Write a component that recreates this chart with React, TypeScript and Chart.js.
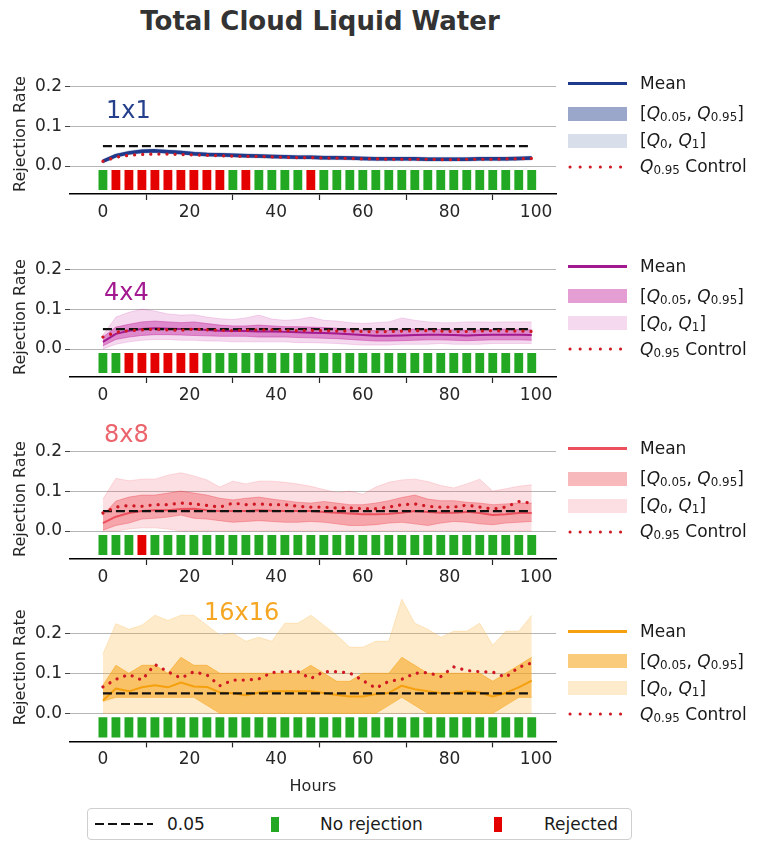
import React, { useEffect, useRef } from "react";
import { Chart, registerables } from "chart.js";

Chart.register(...registerables);

// ---------- data ----------
const HOURS = [0, 3, 6, 9, 12, 15, 18, 21, 24, 27, 30, 33, 36, 39, 42, 45, 48, 51, 54, 57, 60, 63, 66, 69, 72, 75, 78, 81, 84, 87, 90, 93, 96, 99];
const X_TICKS = [0, 20, 40, 60, 80, 100];
const Y_TICKS = [0, 0.1, 0.2];
const THRESHOLD = 0.05;
const BAR_LOW = -0.06;
const BAR_HIGH = -0.01;

// 1x1
const MEAN_1 = [0.012,0.026,0.033,0.037,0.038,0.036,0.034,0.031,0.029,0.028,0.027,0.026,0.025,0.024,0.023,0.022,0.022,0.021,0.021,0.020,0.019,0.018,0.018,0.018,0.018,0.017,0.017,0.017,0.017,0.018,0.018,0.018,0.019,0.020];
const Q95_1 = [0.015,0.029,0.036,0.040,0.041,0.039,0.037,0.034,0.032,0.031,0.030,0.029,0.028,0.027,0.026,0.025,0.025,0.024,0.024,0.023,0.022,0.021,0.021,0.021,0.021,0.020,0.020,0.020,0.020,0.021,0.021,0.021,0.022,0.023];
const Q05_1 = [0.009,0.023,0.030,0.034,0.035,0.033,0.031,0.028,0.026,0.025,0.024,0.023,0.022,0.021,0.020,0.019,0.019,0.018,0.018,0.017,0.016,0.015,0.015,0.015,0.015,0.014,0.014,0.014,0.014,0.015,0.015,0.015,0.016,0.017];
const Q1_1 = [0.017,0.031,0.038,0.042,0.043,0.041,0.039,0.036,0.034,0.033,0.032,0.031,0.030,0.029,0.028,0.027,0.027,0.026,0.026,0.025,0.024,0.023,0.023,0.023,0.023,0.022,0.022,0.022,0.022,0.023,0.023,0.023,0.024,0.025];
const Q0_1 = [0.007,0.021,0.028,0.032,0.033,0.031,0.029,0.026,0.024,0.023,0.022,0.021,0.020,0.019,0.018,0.017,0.017,0.016,0.016,0.015,0.014,0.013,0.013,0.013,0.013,0.012,0.012,0.012,0.012,0.013,0.013,0.013,0.014,0.015];
const CTRL_1 = [0.012,0.022,0.027,0.029,0.030,0.030,0.029,0.028,0.027,0.026,0.025,0.024,0.024,0.023,0.022,0.021,0.021,0.020,0.020,0.019,0.018,0.018,0.017,0.017,0.017,0.017,0.016,0.016,0.017,0.017,0.017,0.018,0.018,0.019];
const REJ_1 = [0,1,1,1,1,1,1,1,1,1,0,1,0,0,0,0,1,0,0,0,0,0,0,0,0,0,0,0,0,0,0,0,0,0];

// 4x4
const MEAN_2 = [0.018,0.038,0.046,0.050,0.052,0.051,0.050,0.050,0.048,0.046,0.045,0.045,0.044,0.044,0.043,0.042,0.041,0.040,0.039,0.037,0.035,0.033,0.033,0.034,0.035,0.036,0.036,0.035,0.034,0.035,0.036,0.036,0.036,0.035];
const Q95_2 = [0.030,0.055,0.062,0.068,0.070,0.068,0.066,0.068,0.064,0.060,0.058,0.058,0.060,0.058,0.056,0.056,0.055,0.054,0.052,0.050,0.048,0.046,0.047,0.048,0.050,0.050,0.049,0.048,0.047,0.048,0.049,0.050,0.049,0.048];
const Q05_2 = [0.008,0.024,0.030,0.034,0.036,0.036,0.035,0.034,0.033,0.032,0.032,0.032,0.030,0.030,0.030,0.029,0.028,0.027,0.026,0.024,0.022,0.020,0.020,0.021,0.022,0.023,0.023,0.022,0.021,0.022,0.023,0.023,0.023,0.022];
const Q1_2 = [0.035,0.080,0.092,0.100,0.095,0.088,0.085,0.086,0.080,0.076,0.074,0.078,0.085,0.075,0.072,0.074,0.080,0.072,0.070,0.066,0.064,0.066,0.068,0.078,0.072,0.068,0.066,0.066,0.068,0.068,0.067,0.068,0.068,0.068];
const Q0_2 = [0.000,0.012,0.018,0.022,0.024,0.024,0.022,0.022,0.020,0.020,0.018,0.018,0.018,0.018,0.018,0.016,0.016,0.015,0.014,0.012,0.010,0.010,0.010,0.012,0.012,0.012,0.014,0.012,0.012,0.012,0.014,0.014,0.014,0.014];
const CTRL_2 = [0.030,0.042,0.046,0.048,0.050,0.048,0.047,0.050,0.048,0.047,0.046,0.047,0.048,0.048,0.046,0.046,0.047,0.046,0.045,0.045,0.044,0.043,0.044,0.045,0.046,0.046,0.045,0.044,0.044,0.045,0.046,0.045,0.045,0.044];
const REJ_2 = [0,0,1,1,1,1,1,1,0,0,0,0,0,0,0,0,0,0,0,0,0,0,0,0,0,0,0,0,0,0,0,0,0,0];

// 8x8
const MEAN_3 = [0.020,0.036,0.045,0.050,0.052,0.052,0.055,0.056,0.052,0.050,0.050,0.050,0.052,0.051,0.050,0.050,0.050,0.048,0.046,0.044,0.042,0.042,0.043,0.046,0.050,0.048,0.046,0.046,0.048,0.045,0.040,0.042,0.045,0.045];
const Q95_3 = [0.040,0.075,0.085,0.090,0.090,0.095,0.100,0.095,0.090,0.082,0.078,0.082,0.085,0.080,0.076,0.072,0.070,0.074,0.070,0.066,0.066,0.070,0.076,0.084,0.090,0.080,0.076,0.076,0.072,0.070,0.066,0.068,0.070,0.070];
const Q05_3 = [0.002,0.014,0.020,0.030,0.032,0.035,0.040,0.032,0.030,0.026,0.022,0.024,0.026,0.024,0.022,0.022,0.024,0.022,0.018,0.014,0.014,0.016,0.020,0.022,0.018,0.014,0.020,0.024,0.022,0.018,0.016,0.020,0.022,0.024];
const Q1_3 = [0.080,0.132,0.126,0.130,0.130,0.140,0.146,0.138,0.128,0.110,0.125,0.118,0.125,0.125,0.122,0.118,0.112,0.104,0.096,0.100,0.092,0.110,0.122,0.128,0.130,0.124,0.114,0.108,0.118,0.130,0.100,0.106,0.112,0.116];
const Q0_3 = [0.000,0.000,0.005,0.008,0.008,0.005,0.000,0.000,0.000,0.000,0.000,0.000,0.000,0.000,0.000,0.000,0.000,0.000,0.000,0.000,0.000,0.000,0.000,0.000,0.000,0.000,0.000,0.000,0.000,0.000,0.000,0.000,0.000,0.000];
const CTRL_3 = [0.045,0.060,0.064,0.062,0.066,0.066,0.070,0.068,0.064,0.060,0.070,0.066,0.068,0.066,0.066,0.062,0.060,0.060,0.058,0.058,0.056,0.056,0.060,0.066,0.068,0.062,0.060,0.060,0.065,0.060,0.055,0.060,0.074,0.070];
const REJ_3 = [0,0,0,1,0,0,0,0,0,0,0,0,0,0,0,0,0,0,0,0,0,0,0,0,0,0,0,0,0,0,0,0,0,0];

// 16x16
const MEAN_4 = [0.032,0.062,0.055,0.065,0.070,0.065,0.077,0.067,0.066,0.052,0.050,0.045,0.052,0.055,0.055,0.055,0.055,0.051,0.046,0.042,0.042,0.048,0.051,0.069,0.060,0.055,0.051,0.051,0.055,0.052,0.042,0.051,0.065,0.082];
const Q95_4 = [0.07,0.12,0.10,0.12,0.12,0.10,0.14,0.12,0.12,0.10,0.10,0.10,0.10,0.10,0.10,0.10,0.12,0.10,0.08,0.08,0.10,0.10,0.10,0.14,0.12,0.10,0.10,0.10,0.10,0.10,0.08,0.10,0.12,0.14];
const Q05_4 = [0.03,0.04,0.04,0.04,0.04,0.04,0.04,0.04,0.02,0.00,0.00,0.00,0.00,0.00,0.00,0.00,0.00,0.00,0.00,0.00,0.00,0.00,0.02,0.04,0.02,0.00,0.00,0.00,0.00,0.00,0.00,0.02,0.04,0.04];
const Q1_4 = [0.148,0.224,0.210,0.220,0.245,0.232,0.245,0.245,0.220,0.195,0.200,0.180,0.190,0.180,0.225,0.225,0.245,0.220,0.195,0.165,0.165,0.180,0.180,0.285,0.225,0.210,0.190,0.205,0.205,0.225,0.170,0.205,0.205,0.245];
const Q0_4 = [0,0,0,0,0,0,0,0,0,0,0,0,0,0,0,0,0,0,0,0,0,0,0,0,0,0,0,0,0,0,0,0,0,0];
const CTRL_4 = [0.066,0.085,0.097,0.083,0.122,0.104,0.088,0.104,0.096,0.069,0.083,0.083,0.086,0.102,0.104,0.104,0.087,0.104,0.104,0.101,0.082,0.063,0.080,0.085,0.100,0.102,0.092,0.116,0.107,0.104,0.103,0.090,0.115,0.126];
const REJ_4 = [0,0,0,0,0,0,0,0,0,0,0,0,0,0,0,0,0,0,0,0,0,0,0,0,0,0,0,0,0,0,0,0,0,0];

// ---------- style ----------
const FONT = "'DejaVu Sans', 'Liberation Sans', sans-serif";
const TEXT = "#262626";
const GREEN = "#22a822";
const RED = "#e50000";
const CTRL_COLOR = "#cf1822";

const PANELS = [
  { name: "1x1", line: "#1f3a8a", q05: "rgba(31,58,138,0.45)", q0: "rgba(31,58,138,0.17)", lw: 3.5, mean: MEAN_1, q95v: Q95_1, q05v: Q05_1, q1v: Q1_1, q0v: Q0_1, ctrl: CTRL_1, rej: REJ_1, ymax: 0.23, labelX: 106, labelY: 109, labelColor: "#243f8c" },
  { name: "4x4", line: "#a3198f", q05: "rgba(196,40,160,0.45)", q0: "rgba(205,70,175,0.2)", lw: 2, mean: MEAN_2, q95v: Q95_2, q05v: Q05_2, q1v: Q1_2, q0v: Q0_2, ctrl: CTRL_2, rej: REJ_2, ymax: 0.23, labelX: 104, labelY: 291, labelColor: "#a3198f" },
  { name: "8x8", line: "#ee4f5c", q05: "rgba(236,70,82,0.38)", q0: "rgba(240,95,108,0.2)", lw: 2, mean: MEAN_3, q95v: Q95_3, q05v: Q05_3, q1v: Q1_3, q0v: Q0_3, ctrl: CTRL_3, rej: REJ_3, ymax: 0.23, labelX: 104, labelY: 433, labelColor: "#ec646c" },
  { name: "16x16", line: "#f5a00f", q05: "rgba(248,165,30,0.58)", q0: "rgba(250,175,50,0.25)", lw: 2, mean: MEAN_4, q95v: Q95_4, q05v: Q05_4, q1v: Q1_4, q0v: Q0_4, ctrl: CTRL_4, rej: REJ_4, ymax: 0.3, labelX: 204, labelY: 611, labelColor: "#f5a623" },
];

// layout
const Y_MIN = -0.07;
const X_MIN = -7.6;
const X_MAX = 104.6;
const PX_PER_UNIT = 410;
const AREA_LEFT = 70;
const AREA_RIGHT = 556;
const CANVAS_W = 570;
const PAD_TOP = 10;

const pts = (arr: number[]) => HOURS.map((h, i) => ({ x: h, y: arr[i] }));

function Panel({ p, idx }: { p: any; idx: number }) {
  const ref = useRef<HTMLCanvasElement>(null);
  const zero = 165.5 + 182.6 * idx;
  const areaTop = zero - p.ymax * PX_PER_UNIT;
  const areaBottom = zero - Y_MIN * PX_PER_UNIT;
  const isLast = idx === 3;
  const xAxisH = isLast ? 787 + 9.6 + 4 - areaBottom : 45;
  const canvasTop = areaTop - PAD_TOP;
  const canvasH = Math.round(PAD_TOP + (areaBottom - areaTop) + xAxisH);

  useEffect(() => {
    const ctx = ref.current!;
    const lineBase = { pointRadius: 0, tension: 0, borderJoinStyle: "round" as const };
    const chart = new Chart(ctx, {
      type: "line",
      data: {
        datasets: [
          { ...lineBase, label: "Q1", data: pts(p.q1v), borderColor: p.q0, backgroundColor: p.q0, borderWidth: 1, fill: "+1", order: 6 },
          { ...lineBase, label: "Q0", data: pts(p.q0v), borderColor: p.q0, borderWidth: 1, fill: false, order: 6 },
          { ...lineBase, label: "Q95", data: pts(p.q95v), borderColor: p.q05, backgroundColor: p.q05, borderWidth: 1, fill: "+1", order: 5 },
          { ...lineBase, label: "Q05", data: pts(p.q05v), borderColor: p.q05, borderWidth: 1, fill: false, order: 5 },
          { ...lineBase, label: "Mean", data: pts(p.mean), borderColor: p.line, borderWidth: p.lw, fill: false, order: 4 },
          { ...lineBase, label: "0.05", data: [{ x: HOURS[0], y: THRESHOLD }, { x: HOURS[HOURS.length - 1], y: THRESHOLD }], borderColor: "#111", borderWidth: 2.2, borderDash: [9, 4], fill: false, order: 3 },
          { ...lineBase, label: "Control", data: pts(p.ctrl), borderColor: CTRL_COLOR, borderWidth: 3.2, borderDash: [0.1, 8], borderCapStyle: "round", fill: false, order: 2 },
          { type: "bar", label: "Test", data: HOURS.map((h) => ({ x: h, y: [BAR_LOW, BAR_HIGH] })) as any, backgroundColor: p.rej.map((r: number) => (r ? RED : GREEN)), barPercentage: 0.68, categoryPercentage: 1, order: 7 } as any,
        ],
      },
      options: {
        responsive: false,
        maintainAspectRatio: false,
        animation: false,
        events: [],
        layout: { padding: { top: PAD_TOP, left: 0, right: CANVAS_W - AREA_RIGHT, bottom: 0 } },
        plugins: { legend: { display: false }, tooltip: { enabled: false }, title: { display: false } },
        scales: {
          x: {
            type: "linear",
            min: X_MIN,
            max: X_MAX,
            offset: false,
            afterBuildTicks: (s: any) => { s.ticks = X_TICKS.map((v) => ({ value: v })); },
            afterFit: (s: any) => { s.height = xAxisH; },
            ticks: { font: { family: FONT, size: 17 }, color: TEXT, padding: 2, maxRotation: 0, autoSkip: false, callback: (v: any) => String(v) },
            grid: { display: true, drawOnChartArea: false, drawTicks: true, tickLength: 6, color: TEXT, tickWidth: 1.2 },
            border: { display: true, color: "#000", width: 1.6 },
            title: { display: isLast, text: "Hours", font: { family: FONT, size: 16 }, color: TEXT, padding: { top: 0, bottom: 4 } },
          },
          y: {
            type: "linear",
            min: Y_MIN,
            max: p.ymax,
            afterBuildTicks: (s: any) => { s.ticks = Y_TICKS.map((v) => ({ value: v })); },
            afterFit: (s: any) => { s.width = AREA_LEFT; },
            ticks: { font: { family: FONT, size: 17 }, color: TEXT, padding: 3, callback: (v: any) => Number(v).toFixed(1) },
            grid: { color: "#b5b5b5", lineWidth: 1, tickLength: 5, tickColor: "#444", drawTicks: true },
            border: { display: false },
            title: { display: true, text: "Rejection Rate", font: { family: FONT, size: 16 }, color: TEXT, padding: { top: 11, bottom: 0 } },
          },
        },
      } as any,
    });
    return () => chart.destroy();
  }, []);

  return (
    <canvas
      ref={ref}
      width={CANVAS_W}
      height={canvasH}
      style={{ position: "absolute", left: 0, top: canvasTop, width: CANVAS_W, height: canvasH }}
    />
  );
}

const Sub = ({ children }: { children: any }) => (
  <span style={{ fontSize: "0.7em", position: "relative", top: "0.3em", lineHeight: 0 }}>{children}</span>
);
const Q = () => <span style={{ fontStyle: "italic" }}>Q</span>;

function SideLegend({ p, idx }: { p: any; idx: number }) {
  const zero = 165.5 + 182.6 * idx;
  const rows = [zero - 82, zero - 52, zero - 25, zero + 1];
  const sx = 568;
  const sw = 59;
  const tx = 640;
  const rowStyle = (y: number): React.CSSProperties => ({ position: "absolute", left: tx, top: y - 10, height: 20, display: "flex", alignItems: "center", fontSize: 17, color: "#1a1a1a", whiteSpace: "nowrap", lineHeight: 1 });
  return (
    <>
      <div style={{ position: "absolute", left: sx, top: rows[0] - 1.5, width: sw, height: 3, background: p.line }} />
      <div style={rowStyle(rows[0])}>Mean</div>
      <div style={{ position: "absolute", left: sx, top: rows[1] - 7, width: sw, height: 14, background: p.q05 }} />
      <div style={rowStyle(rows[1])}>[<Q /><Sub>0.05</Sub>,&nbsp;<Q /><Sub>0.95</Sub>]</div>
      <div style={{ position: "absolute", left: sx, top: rows[2] - 7, width: sw, height: 14, background: p.q0 }} />
      <div style={rowStyle(rows[2])}>[<Q /><Sub>0</Sub>,&nbsp;<Q /><Sub>1</Sub>]</div>
      <svg style={{ position: "absolute", left: sx, top: rows[3] - 3 }} width={sw} height={6}>
        <line x1={2} y1={3} x2={sw} y2={3} stroke={CTRL_COLOR} strokeWidth={3} strokeDasharray="0.1 10" strokeLinecap="round" />
      </svg>
      <div style={rowStyle(rows[3])}><Q /><Sub>0.95</Sub>&nbsp;Control</div>
    </>
  );
}

export default function App() {
  useEffect(() => {
    document.body.style.margin = "0";
  }, []);
  return (
    <div style={{ position: "absolute", left: 0, top: 0, width: 757, height: 843, background: "#fff", fontFamily: FONT, overflow: "hidden" }}>
      <div style={{ position: "absolute", left: 0, top: 8, width: 640, textAlign: "center", fontSize: 26, fontWeight: "bold", color: "#333", lineHeight: 1 }}>
        Total Cloud Liquid Water
      </div>
      {PANELS.map((p, i) => (
        <Panel key={p.name} p={p} idx={i} />
      ))}
      {PANELS.map((p, i) => (
        <div key={"lbl" + p.name} style={{ position: "absolute", left: p.labelX, top: p.labelY - 11.5, fontSize: 24, lineHeight: 1, color: p.labelColor }}>
          {p.name}
        </div>
      ))}
      {PANELS.map((p, i) => (
        <SideLegend key={"leg" + p.name} p={p} idx={i} />
      ))}
      <div style={{ position: "absolute", left: 87, top: 808, width: 545, height: 32, border: "1px solid #cfcfcf", borderRadius: 4, boxSizing: "border-box" }} />
      <svg style={{ position: "absolute", left: 95, top: 821 }} width={60} height={6}>
        <line x1={0} y1={3} x2={58} y2={3} stroke="#111" strokeWidth={2.2} strokeDasharray="9 4" />
      </svg>
      <div style={{ position: "absolute", left: 167, top: 816, fontSize: 17, lineHeight: 1, color: "#1a1a1a" }}>0.05</div>
      <div style={{ position: "absolute", left: 271, top: 817, width: 8, height: 15, background: GREEN }} />
      <div style={{ position: "absolute", left: 320, top: 816, fontSize: 17, lineHeight: 1, color: "#1a1a1a" }}>No rejection</div>
      <div style={{ position: "absolute", left: 494, top: 817, width: 8, height: 15, background: RED }} />
      <div style={{ position: "absolute", left: 544, top: 816, fontSize: 17, lineHeight: 1, color: "#1a1a1a" }}>Rejected</div>
    </div>
  );
}
